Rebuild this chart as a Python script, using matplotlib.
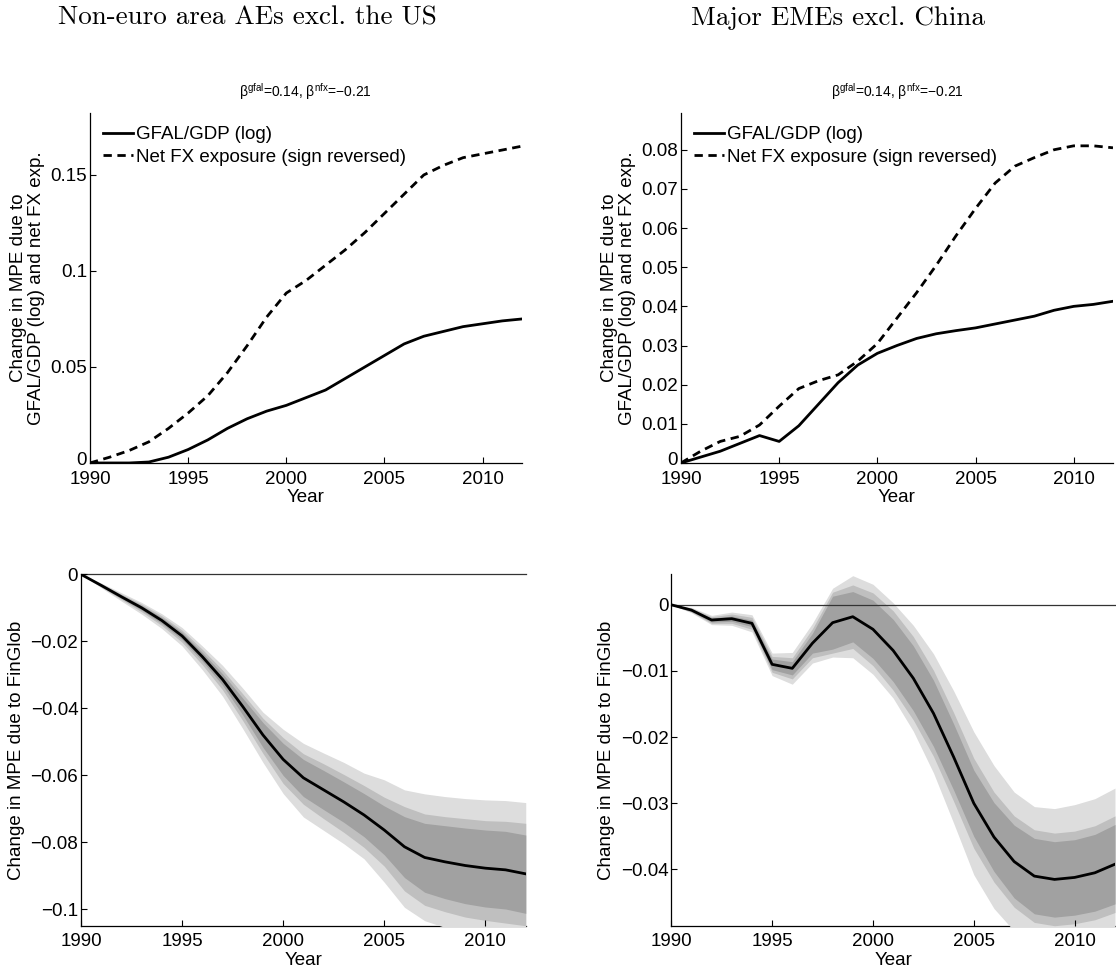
import numpy as np
import matplotlib
matplotlib.use('Agg')
import matplotlib.pyplot as plt
import matplotlib.transforms as mtransforms

plt.rcParams['font.family'] = ['Liberation Sans', 'DejaVu Sans']
plt.rcParams['mathtext.fontset'] = 'custom'
plt.rcParams['mathtext.rm'] = 'Liberation Sans'
plt.rcParams['mathtext.it'] = 'Liberation Sans:italic'

years = np.arange(1990, 2013)

# --- Non-euro area AEs excl. the US ---
ae_gfal = [0, 0, 0, 0.0005, 0.003, 0.007, 0.012, 0.018, 0.023, 0.027, 0.030, 0.034,
           0.038, 0.044, 0.050, 0.056, 0.062, 0.066, 0.0685, 0.071, 0.0725, 0.074, 0.075]
ae_nfx = [0, 0.003, 0.0065, 0.011, 0.018, 0.026, 0.035, 0.047, 0.061, 0.076, 0.0885, 0.095,
          0.103, 0.111, 0.120, 0.130, 0.140, 0.150, 0.155, 0.159, 0.161, 0.163, 0.165]

ae_med = [0, -0.0033, -0.0067, -0.0100, -0.0138, -0.0184, -0.0246, -0.0314, -0.0395, -0.0480,
          -0.0553, -0.0608, -0.0644, -0.0680, -0.0719, -0.0764, -0.0814, -0.0846, -0.0859,
          -0.0870, -0.0878, -0.0883, -0.0895]
ae_light_hi = [0, -0.0026, -0.0055, -0.0084, -0.0118, -0.0159, -0.0214, -0.0272, -0.0340, -0.0412,
               -0.0463, -0.0505, -0.0534, -0.0562, -0.0594, -0.0614, -0.0644, -0.0656, -0.0664,
               -0.0670, -0.0674, -0.0676, -0.0682]
ae_light_lo = [0, -0.0040, -0.0080, -0.0119, -0.0162, -0.0214, -0.0285, -0.0364, -0.0461, -0.0562,
               -0.0655, -0.0725, -0.0765, -0.0805, -0.0850, -0.0920, -0.0995, -0.1035, -0.1055,
               -0.1070, -0.1080, -0.1090, -0.1100]
ae_mid_hi = [0, -0.0028, -0.0059, -0.0089, -0.0124, -0.0167, -0.0224, -0.0286, -0.0357, -0.0430,
             -0.0488, -0.0536, -0.0566, -0.0598, -0.0631, -0.0666, -0.0694, -0.0716, -0.0724,
             -0.0730, -0.0736, -0.0738, -0.0744]
ae_mid_lo = [0, -0.0038, -0.0075, -0.0112, -0.0153, -0.0203, -0.0270, -0.0345, -0.0437, -0.0535,
             -0.0625, -0.0687, -0.0730, -0.0771, -0.0816, -0.0872, -0.0946, -0.0989, -0.1008,
             -0.1024, -0.1034, -0.1042, -0.1050]
ae_dark_hi = [0, -0.0030, -0.0062, -0.0093, -0.0129, -0.0173, -0.0233, -0.0297, -0.0370, -0.0443,
              -0.0505, -0.0553, -0.0586, -0.0620, -0.0655, -0.0692, -0.0724, -0.0744, -0.0751,
              -0.0758, -0.0764, -0.0768, -0.0779]
ae_dark_lo = [0, -0.0036, -0.0072, -0.0107, -0.0147, -0.0195, -0.0259, -0.0331, -0.0420, -0.0517,
              -0.0601, -0.0664, -0.0703, -0.0741, -0.0784, -0.0838, -0.0906, -0.0950, -0.0969,
              -0.0984, -0.0994, -0.1000, -0.1013]

# --- Major EMEs excl. China ---
em_gfal = [0, 0.0015, 0.003, 0.005, 0.007, 0.0055, 0.0095, 0.015, 0.0205, 0.025, 0.028, 0.030,
           0.0318, 0.033, 0.0338, 0.0345, 0.0355, 0.0365, 0.0375, 0.039, 0.040, 0.0405, 0.0413]
em_nfx = [0, 0.003, 0.0055, 0.0068, 0.0097, 0.0145, 0.019, 0.021, 0.0225, 0.026, 0.0305, 0.037,
          0.0435, 0.0505, 0.058, 0.065, 0.0715, 0.0758, 0.078, 0.080, 0.081, 0.081, 0.0805]

em_med = [0, -0.0008, -0.0023, -0.0021, -0.0028, -0.0090, -0.0096, -0.0058, -0.0027, -0.0018,
          -0.0037, -0.0069, -0.0111, -0.0164, -0.0230, -0.0300, -0.0351, -0.0388, -0.0410,
          -0.0415, -0.0412, -0.0405, -0.0392]
em_light_hi = [0, -0.0004, -0.0016, -0.0011, -0.0015, -0.0073, -0.0072, -0.0028, 0.0025, 0.0044,
               0.0031, 0.0003, -0.0031, -0.0074, -0.0130, -0.0192, -0.0243, -0.0283, -0.0305,
               -0.0308, -0.0302, -0.0293, -0.0277]
em_light_lo = [0, -0.0012, -0.0030, -0.0031, -0.0041, -0.0107, -0.0120, -0.0088, -0.0079, -0.0080,
               -0.0105, -0.0141, -0.0191, -0.0254, -0.0330, -0.0408, -0.0459, -0.0493, -0.0515,
               -0.0522, -0.0522, -0.0517, -0.0507]
em_mid_hi = [0, -0.0005, -0.0018, -0.0014, -0.0019, -0.0078, -0.0080, -0.0036, 0.0019, 0.0030,
             0.0018, -0.0009, -0.0048, -0.0099, -0.0163, -0.0232, -0.0283, -0.0319, -0.0340,
             -0.0345, -0.0342, -0.0334, -0.0319]
em_mid_lo = [0, -0.0011, -0.0028, -0.0028, -0.0037, -0.0102, -0.0112, -0.0080, -0.0073, -0.0066,
             -0.0092, -0.0129, -0.0174, -0.0229, -0.0297, -0.0368, -0.0419, -0.0457, -0.0480,
             -0.0485, -0.0482, -0.0476, -0.0465]
em_dark_hi = [0, -0.0006, -0.0020, -0.0017, -0.0023, -0.0082, -0.0086, -0.0043, 0.0013, 0.0020,
              0.0007, -0.0022, -0.0062, -0.0114, -0.0180, -0.0250, -0.0299, -0.0333, -0.0353,
              -0.0358, -0.0355, -0.0347, -0.0332]
em_dark_lo = [0, -0.0010, -0.0026, -0.0025, -0.0033, -0.0098, -0.0106, -0.0073, -0.0067, -0.0056,
              -0.0081, -0.0116, -0.0160, -0.0214, -0.0280, -0.0350, -0.0403, -0.0443, -0.0467,
              -0.0472, -0.0469, -0.0463, -0.0452]

FS = 13.5
beta_title = 'β$^{\\mathrm{gfal}}$=0.14, β$^{\\mathrm{nfx}}$=\u22120.21'
ylab_top = 'Change in MPE due to\nGFAL/GDP (log) and net FX exp.'
ylab_bot = 'Change in MPE due to FinGlob'


def fmt(v):
    s = ('%.2f' % v).rstrip('0').rstrip('.')
    if s in ('-0', '0'):
        return '0'
    return s.replace('-', '\u2212')


def style(ax, yticks, ylim):
    for side in ('top', 'right'):
        ax.spines[side].set_visible(False)
    for side in ('left', 'bottom'):
        ax.spines[side].set_linewidth(0.9)
        ax.spines[side].set_zorder(0.5)
    ax.set_xlim(1990, 2012)
    ax.set_ylim(*ylim)
    ax.set_xticks([1990, 1995, 2000, 2005, 2010])
    ax.set_yticks(yticks)
    ax.set_yticklabels([fmt(v) for v in yticks])
    ax.tick_params(direction='in', length=4, width=0.8, labelsize=FS)
    ax.tick_params(axis='x', pad=5.5)
    ax.tick_params(axis='y', pad=2)
    ax.set_xlabel('Year', fontsize=FS, labelpad=1)


fig = plt.figure(figsize=(11.16, 9.72), dpi=100)

ax1 = fig.add_axes([0.0806, 0.5237, 0.3871, 0.3601])
ax2 = fig.add_axes([0.6102, 0.5237, 0.3871, 0.3601])
ax3 = fig.add_axes([0.0726, 0.0476, 0.3985, 0.3615])
ax4 = fig.add_axes([0.6015, 0.0476, 0.3976, 0.3615])

for ax, gfal, nfx, yt, yl in [(ax1, ae_gfal, ae_nfx, [0, 0.05, 0.1, 0.15], (0, 0.1823)),
                              (ax2, em_gfal, em_nfx, np.arange(0, 0.081, 0.01), (0, 0.0894))]:
    ax.plot(years, gfal, color='black', lw=2, label='GFAL/GDP (log)')
    ax.plot(years, nfx, color='black', lw=2, ls=(0, (3, 2)), label='Net FX exposure (sign reversed)')
    style(ax, yt, yl)
    ax.set_ylabel(ylab_top, fontsize=FS, linespacing=1.05, labelpad=4)
    ax.set_title(beta_title, fontsize=10, pad=12)
    ax.legend(loc='upper left', frameon=False, fontsize=FS, handlelength=1.6,
              handletextpad=0.15, labelspacing=0.3, borderaxespad=0.5, borderpad=0.2)
    # lift the "0" label a touch so it clears the "1990" below it
    zero_lab = ax.get_yticklabels()[0]
    zero_lab.set_transform(zero_lab.get_transform() +
                           mtransforms.ScaledTranslation(0, 3 / 72, fig.dpi_scale_trans))

bands = [
    (ax3, ae_med, ae_light_hi, ae_light_lo, ae_mid_hi, ae_mid_lo, ae_dark_hi, ae_dark_lo,
     [-0.1, -0.08, -0.06, -0.04, -0.02, 0], (-0.105, 0)),
    (ax4, em_med, em_light_hi, em_light_lo, em_mid_hi, em_mid_lo, em_dark_hi, em_dark_lo,
     [-0.04, -0.03, -0.02, -0.01, 0], (-0.0485, 0.0046)),
]
for ax, med, lh, ll, mh, ml, dh, dl, yt, yl in bands:
    ax.fill_between(years, ll, lh, color='#dddddd', lw=0, zorder=1)
    ax.fill_between(years, ml, mh, color='#bfbfbf', lw=0, zorder=1.1)
    ax.fill_between(years, dl, dh, color='#a1a1a1', lw=0, zorder=1.2)
    ax.axhline(0, color='#333333', lw=0.9, zorder=1.5, clip_on=False)
    ax.plot(years, med, color='black', lw=2, zorder=2)
    style(ax, yt, yl)
    ax.set_ylabel(ylab_bot, fontsize=FS, labelpad=4)

fig.text(0.222, 0.9815, 'Non-euro area AEs excl. the US', family='cmr10', fontsize=19.5,
         ha='center', va='center')
fig.text(0.751, 0.9815, 'Major EMEs excl. China', family='cmr10', fontsize=19.5,
         ha='center', va='center')

fig.savefig('out.png', dpi=100)
